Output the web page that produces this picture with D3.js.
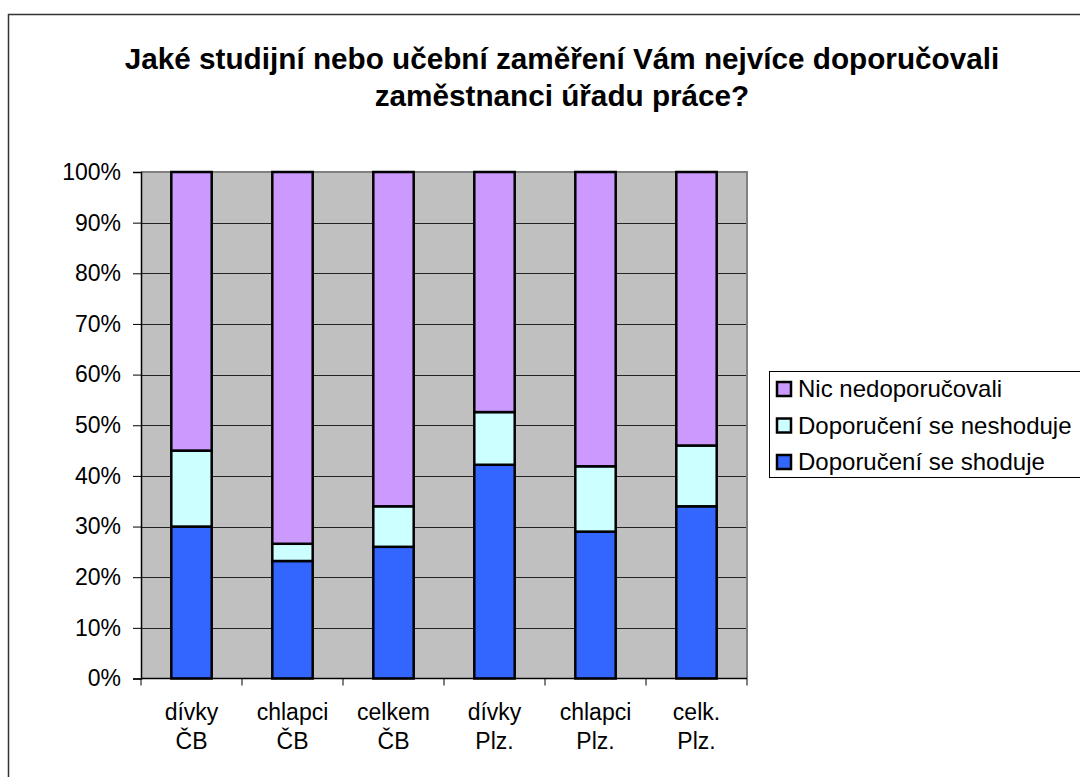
<!DOCTYPE html>
<html>
<head>
<meta charset="utf-8">
<script src="https://cdn.jsdelivr.net/npm/d3@7"></script>
<style>
  body { margin: 0; background: #fff; }
  text { font-family: "Liberation Sans", Arial, sans-serif; fill: #000; }
</style>
</head>
<body>
<svg width="1080" height="777"></svg>
<script>
const svg = d3.select("svg"),
	width = +svg.attr("width"),
	height = +svg.attr("height");

const categories = [
	["dívky", "ČB"],
	["chlapci", "ČB"],
	["celkem", "ČB"],
	["dívky", "Plz."],
	["chlapci", "Plz."],
	["celk.", "Plz."]
];
const seriesNames = ["Doporučení se shoduje", "Doporučení se neshoduje", "Nic nedoporučovali"];
const shoduje = [30, 23.2, 26, 42.2, 29, 34];
const neshoduje = [15, 3.4, 8, 10.4, 12.9, 12];
const nic = [55, 73.4, 66, 47.4, 58.1, 54];
const yTicks = [0, 10, 20, 30, 40, 50, 60, 70, 80, 90, 100];
const colors = ["#3366FF", "#CCFFFF", "#CC99FF"];

const rows = categories.map((c, i) => ({
	key: i,
	s0: shoduje[i],
	s1: neshoduje[i],
	s2: nic[i]
}));

const plot = { left: 141, top: 172, right: 747, bottom: 678.5 };

const x = d3
	.scaleBand()
	.domain(d3.range(categories.length))
	.range([plot.left, plot.right])
	.paddingInner(0.6)
	.paddingOuter(0.3);

const xTick = d3
	.scaleLinear()
	.domain([0, categories.length])
	.range([plot.left, plot.right]);

const y = d3.scaleLinear().domain([0, 100]).range([plot.bottom, plot.top]);

// outer frame
svg
	.append("rect")
	.attr("x", 8.5)
	.attr("y", 14.5)
	.attr("width", 1200)
	.attr("height", 900)
	.attr("fill", "none")
	.attr("stroke", "#333")
	.attr("stroke-width", 1.5);

// title
const title = svg
	.append("text")
	.attr("text-anchor", "middle")
	.style("font-size", "29.7px")
	.style("font-weight", "bold");
title.append("tspan").attr("x", 562).attr("y", 69).text("Jaké studijní nebo učební zaměření Vám nejvíce doporučovali");
title.append("tspan").attr("x", 562).attr("y", 106).text("zaměstnanci úřadu práce?");

// plot background
svg
	.append("rect")
	.attr("x", plot.left)
	.attr("y", plot.top)
	.attr("width", plot.right - plot.left)
	.attr("height", plot.bottom - plot.top)
	.attr("fill", "#C0C0C0");

// gridlines
svg
	.append("g")
	.selectAll("line")
	.data(yTicks.slice(1, -1))
	.join("line")
	.attr("x1", plot.left)
	.attr("x2", plot.right)
	.attr("y1", (d) => Math.round(y(d)) + 0.5)
	.attr("y2", (d) => Math.round(y(d)) + 0.5)
	.attr("stroke", "#222")
	.attr("stroke-width", 1);

// plot border (top/right)
svg
	.append("path")
	.attr("d", `M${plot.left},${plot.top}H${plot.right}V${plot.bottom}`)
	.attr("fill", "none")
	.attr("stroke", "#808080")
	.attr("stroke-width", 2);

// stacked bars
const stack = d3.stack().keys(["s0", "s1", "s2"]);
const layers = stack(rows);

svg
	.append("g")
	.selectAll("g")
	.data(layers)
	.join("g")
	.attr("fill", (d, i) => colors[i])
	.selectAll("rect")
	.data((d) => d)
	.join("rect")
	.attr("x", (d) => x(d.data.key))
	.attr("width", x.bandwidth())
	.attr("y", (d) => y(d[1]))
	.attr("height", (d) => y(d[0]) - y(d[1]))
	.attr("stroke", "#000")
	.attr("stroke-width", 2.5);

// y axis
const yAxis = svg
	.append("g")
	.attr("transform", `translate(${plot.left},0)`)
	.call(
		d3
			.axisLeft(y)
			.tickValues(yTicks)
			.tickSize(8)
			.tickPadding(12)
			.tickFormat((d) => d + "%")
	);
yAxis.select(".domain").attr("stroke", "#000").attr("stroke-width", 1.5);
yAxis.selectAll(".tick line").attr("stroke", "#000");
yAxis
	.selectAll(".tick text")
	.style("font-size", "23px")
	.style("font-family", '"Liberation Sans", Arial, sans-serif')
	.attr("fill", "#000");

// x axis
const xAxisG = svg.append("g");
xAxisG
	.append("line")
	.attr("x1", plot.left)
	.attr("x2", plot.right)
	.attr("y1", plot.bottom)
	.attr("y2", plot.bottom)
	.attr("stroke", "#000")
	.attr("stroke-width", 1.5);
xAxisG
	.selectAll(".xt")
	.data(d3.range(categories.length + 1))
	.join("line")
	.attr("class", "xt")
	.attr("x1", (d) => xTick(d))
	.attr("x2", (d) => xTick(d))
	.attr("y1", plot.bottom)
	.attr("y2", plot.bottom + 7)
	.attr("stroke", "#000");

const xl = xAxisG
	.selectAll(".xl")
	.data(categories)
	.join("text")
	.attr("class", "xl")
	.attr("text-anchor", "middle")
	.style("font-size", "23px");
xl.append("tspan")
	.attr("x", (d, i) => x(i) + x.bandwidth() / 2)
	.attr("y", 720)
	.text((d) => d[0]);
xl.append("tspan")
	.attr("x", (d, i) => x(i) + x.bandwidth() / 2)
	.attr("y", 749)
	.text((d) => d[1]);

// legend
const legend = svg.append("g");
legend
	.append("rect")
	.attr("x", 769.5)
	.attr("y", 371.5)
	.attr("width", 330)
	.attr("height", 106)
	.attr("fill", "#fff")
	.attr("stroke", "#000")
	.attr("stroke-width", 1);

const legendItems = [2, 1, 0];
const li = legend
	.selectAll(".li")
	.data(legendItems)
	.join("g")
	.attr("class", "li")
	.attr("transform", (d, i) => `translate(777,${382 + i * 36.5})`);
li.append("rect")
	.attr("width", 14)
	.attr("height", 14)
	.attr("fill", (d) => colors[d])
	.attr("stroke", "#000")
	.attr("stroke-width", 2.5);
li.append("text")
	.attr("x", 21)
	.attr("y", 15)
	.style("font-size", "24px")
	.text((d) => seriesNames[d]);
</script>
</body>
</html>
